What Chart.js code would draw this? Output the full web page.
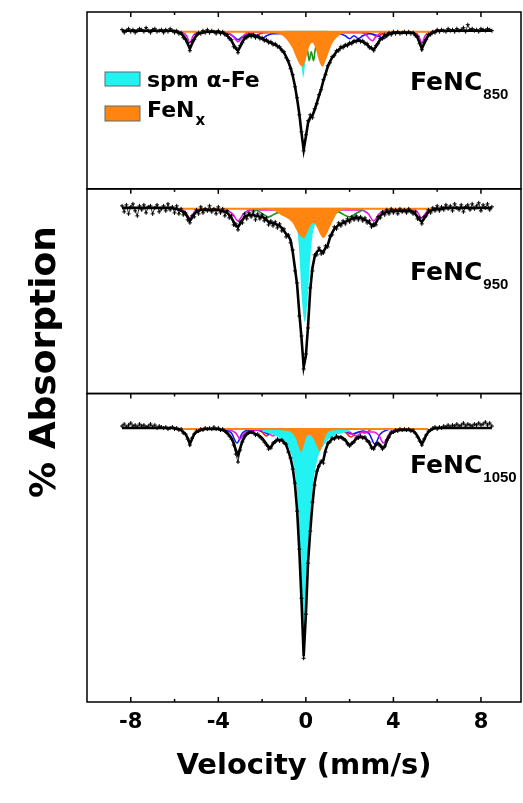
<!DOCTYPE html>
<html>
<head>
<meta charset="utf-8">
<script src="https://cdn.jsdelivr.net/npm/chart.js@4.4.3/dist/chart.umd.min.js"></script>
<style>
  html, body { margin: 0; padding: 0; background: #fff; }
  #wrap { width: 523px; height: 803px; }
</style>
</head>
<body>
<div id="wrap"><canvas id="spectra" width="523" height="803"></canvas></div>
<script>
// velocity grid (mm/s), shared by the measured spectra and the envelope fits
const velocity = [
  -8.4, -8.3, -8.2, -8.1, -8.0, -7.9, -7.8, -7.7, -7.6, -7.5,
  -7.4, -7.3, -7.2, -7.1, -7.0, -6.9, -6.8, -6.7, -6.6, -6.5,
  -6.4, -6.3, -6.2, -6.1, -6.0, -5.9, -5.8, -5.7, -5.6, -5.5,
  -5.4, -5.3, -5.2, -5.1, -5.0, -4.9, -4.8, -4.7, -4.6, -4.5,
  -4.4, -4.3, -4.2, -4.1, -4.0, -3.9, -3.8, -3.7, -3.6, -3.5,
  -3.4, -3.3, -3.2, -3.1, -3.0, -2.9, -2.8, -2.7, -2.6, -2.5,
  -2.4, -2.3, -2.2, -2.1, -2.0, -1.9, -1.8, -1.7, -1.6, -1.5,
  -1.4, -1.3, -1.2, -1.1, -1.0, -0.9, -0.8, -0.7, -0.6, -0.5,
  -0.4, -0.3, -0.2, -0.1, 0.0, 0.1, 0.2, 0.3, 0.4, 0.5,
  0.6, 0.7, 0.8, 0.9, 1.0, 1.1, 1.2, 1.3, 1.4, 1.5,
  1.6, 1.7, 1.8, 1.9, 2.0, 2.1, 2.2, 2.3, 2.4, 2.5,
  2.6, 2.7, 2.8, 2.9, 3.0, 3.1, 3.2, 3.3, 3.4, 3.5,
  3.6, 3.7, 3.8, 3.9, 4.0, 4.1, 4.2, 4.3, 4.4, 4.5,
  4.6, 4.7, 4.8, 4.9, 5.0, 5.1, 5.2, 5.3, 5.4, 5.5,
  5.6, 5.7, 5.8, 5.9, 6.0, 6.1, 6.2, 6.3, 6.4, 6.5,
  6.6, 6.7, 6.8, 6.9, 7.0, 7.1, 7.2, 7.3, 7.4, 7.5,
  7.6, 7.7, 7.8, 7.9, 8.0, 8.1, 8.2, 8.3, 8.4, 8.5
];

// ---- FeNC 850 ----
const data850 = [
  0.1, -0.2, 0.0, 0.2, -0.1, 0.1, -0.2, 0.0, 0.2, 0.1,
  -0.1, 0.3, 0.0, -0.2, 0.1, 0.2, -0.1, 0.0, 0.1, -0.2,
  0.1, -0.1, 0.2, 0.0, -0.2, 0.0, -0.3, -0.2, -0.7, -0.9,
  -1.2, -2.0, -1.1, -0.9, -0.4, -0.2, -0.3, 0.0, -0.2, 0.1,
  -0.2, 0.0, -0.1, -0.3, 0.0, -0.3, -0.1, -0.4, -0.4, -0.8,
  -0.9, -1.6, -1.7, -2.2, -1.5, -1.2, -0.7, -0.7, -0.4, -0.6,
  -0.4, -0.7, -0.5, -0.8, -0.7, -1.0, -0.9, -1.2, -1.1, -1.4,
  -1.3, -1.6, -1.6, -2.0, -2.1, -2.7, -3.0, -3.8, -4.4, -5.6,
  -6.7, -8.4, -10.1, -12.0, -10.4, -9.0, -8.4, -8.7, -7.8, -7.3,
  -6.4, -5.9, -4.9, -4.4, -3.5, -3.2, -2.6, -2.5, -2.0, -2.0,
  -1.6, -1.7, -1.4, -1.5, -1.2, -1.3, -1.0, -1.1, -0.9, -1.1,
  -1.0, -1.3, -1.3, -1.7, -1.7, -2.0, -1.5, -1.3, -0.8, -0.8,
  -0.4, -0.5, -0.2, -0.4, -0.1, -0.3, -0.1, -0.3, -0.2, -0.1,
  -0.3, -0.1, -0.3, -0.2, -0.5, -0.6, -1.3, -1.9, -1.2, -0.9,
  -0.4, -0.4, -0.1, -0.2, 0.1, -0.1, 0.1, 0.0, -0.1, 0.2,
  0.0, 0.1, -0.1, 0.2, 0.0, 0.1, 0.3, -0.1, 0.6, 0.1,
  0.2, 0.0, 0.1, -0.1, 0.2, 0.1, 0.0, 0.2, 0.1, 0.0
];
const fit850 = [
  0, 0, 0, 0, 0, 0, 0, 0, 0, 0,
  0, 0, 0, 0, 0, 0, 0, 0, 0, 0,
  0, 0, 0, 0, 0, -0.1, -0.2, -0.3, -0.5, -0.8,
  -1.3, -1.8, -1.3, -0.8, -0.5, -0.3, -0.2, -0.2, -0.1, -0.1,
  -0.1, -0.1, -0.1, -0.1, -0.1, -0.2, -0.2, -0.3, -0.5, -0.7,
  -1.0, -1.4, -1.8, -2.0, -1.6, -1.1, -0.8, -0.6, -0.5, -0.5,
  -0.5, -0.6, -0.6, -0.7, -0.8, -0.9, -1.0, -1.1, -1.2, -1.3,
  -1.4, -1.5, -1.7, -1.9, -2.2, -2.6, -3.1, -3.7, -4.5, -5.5,
  -6.8, -8.3, -10.2, -11.9, -10.6, -9.2, -8.7, -8.5, -7.9, -7.2,
  -6.5, -5.8, -5.0, -4.3, -3.6, -3.1, -2.7, -2.4, -2.1, -1.9,
  -1.7, -1.6, -1.5, -1.4, -1.3, -1.2, -1.1, -1.0, -1.0, -1.0,
  -1.1, -1.2, -1.4, -1.6, -1.8, -1.9, -1.6, -1.2, -0.9, -0.7,
  -0.5, -0.4, -0.3, -0.3, -0.2, -0.2, -0.2, -0.2, -0.2, -0.2,
  -0.2, -0.2, -0.2, -0.2, -0.4, -0.7, -1.2, -1.8, -1.3, -0.8,
  -0.5, -0.3, -0.2, -0.1, 0, 0, 0, 0, 0, 0,
  0, 0, 0, 0, 0, 0, 0, 0, 0, 0,
  0, 0, 0, 0, 0, 0, 0, 0, 0, 0
];
const feNxVel850 = [-5.7, -4.0, -2.0, -1.3, -1.0, -0.8, -0.6, -0.45, -0.3, -0.15, 0.0, 0.15, 0.3, 0.45, 0.6, 0.77, 0.9, 1.05, 1.2, 1.4, 1.6, 2.0, 4.0, 5.9];
const feNx850 = [-0.2, -0.2, -0.2, -0.3, -0.6, -1.1, -1.8, -2.6, -3.3, -3.6, -2.8, -1.6, -1.2, -1.8, -3.0, -3.6, -3.0, -2.1, -1.3, -0.7, -0.35, -0.2, -0.2, -0.2];
const spmVel850 = [-1.0, -0.6, -0.4, -0.3, -0.2, -0.12, -0.05, 0.05, 0.15, 0.3, 0.6, 1.0];
const spm850 = [-0.1, -0.3, -0.9, -1.8, -3.4, -4.7, -3.6, -1.8, -0.9, -0.4, -0.2, -0.1];
const greenVel850 = [-0.3, -0.1, 0.0, 0.08, 0.15, 0.25, 0.35, 0.42, 0.5, 0.65, 0.9];
const green850 = [-0.3, -0.7, -1.2, -2.0, -3.0, -2.1, -3.0, -2.0, -1.2, -0.6, -0.3];
const magentaVel850 = [-6.0, -5.6, -5.45, -5.3, -5.15, -5.0, -4.5, -3.6, -3.35, -3.2, -3.1, -2.95, -2.8, -2.5, 2.5, 2.75, 2.9, 3.05, 3.2, 3.45, 4.5, 5.0, 5.15, 5.3, 5.45, 5.6, 6.0];
const magenta850 = [0, -0.2, -0.5, -1.2, -0.5, -0.2, -0.1, -0.2, -0.5, -0.9, -1.1, -0.8, -0.4, -0.15, -0.15, -0.4, -0.8, -1.0, -0.6, -0.2, -0.1, -0.2, -0.5, -1.2, -0.5, -0.2, 0];
const blueVel850 = [-4.0, -3.5, -3.3, -3.1, -2.9, -2.5, -2.2, -2.0, -1.8, -1.5, 1.5, 1.8, 2.0, 2.2, 2.4, 2.6, 2.9, 3.3, 3.55, 3.8, 4.2];
const blue850 = [-0.1, -0.3, -0.6, -0.9, -0.6, -0.3, -0.5, -0.8, -0.5, -0.3, -0.3, -0.5, -0.8, -0.5, -0.8, -0.5, -0.3, -0.5, -0.8, -0.4, -0.1];
const redVel850 = [-2.8, -2.5, -2.3, -2.1, -1.8, -1.4, 2.7, 3.0, 3.25, 3.5, 3.8];
const red850 = [-0.1, -0.3, -0.6, -0.3, -0.2, -0.2, -0.2, -0.3, -0.6, -0.3, -0.1];

// ---- FeNC 950 ----
const data950 = [
  0.2, -0.4, 0.3, -0.6, 0.1, 0.4, -0.3, -0.8, 0.2, -0.2,
  0.3, -0.5, 0.1, 0.2, -0.6, 0.0, 0.3, -0.4, -0.1, 0.2,
  -0.3, 0.4, -0.2, 0.1, -0.5, 0.2, -0.6, -0.1, -0.7, -0.5,
  -1.2, -1.5, -0.8, -0.9, -0.2, -0.6, 0.1, -0.5, -0.1, -0.3,
  0.2, -0.4, -0.1, -0.6, 0.1, -0.5, -0.1, -0.8, -0.3, -1.0,
  -0.8, -1.7, -1.6, -2.2, -1.4, -1.5, -0.6, -1.1, -0.5, -0.9,
  -0.4, -1.2, -0.6, -1.1, -0.7, -1.3, -1.0, -1.7, -1.3, -1.8,
  -1.4, -2.0, -1.6, -2.3, -2.1, -2.9, -2.7, -3.5, -4.2, -6.3,
  -7.5, -10.8, -12.8, -16.1, -14.6, -12.0, -8.0, -6.3, -4.7, -4.7,
  -4.0, -4.6, -4.5, -3.8, -3.9, -2.8, -2.7, -1.9, -2.1, -1.5,
  -1.8, -1.3, -1.6, -1.1, -1.4, -0.9, -1.2, -0.8, -1.2, -0.9,
  -1.3, -1.0, -1.5, -1.3, -1.9, -1.6, -1.7, -0.9, -1.0, -0.4,
  -0.7, -0.2, -0.6, -0.1, -0.5, -0.2, -0.6, -0.1, -0.4, -0.2,
  -0.5, -0.1, -0.4, -0.6, -0.4, -1.1, -1.0, -1.6, -0.9, -0.8,
  -0.2, -0.5, 0.0, -0.3, 0.2, -0.3, 0.1, -0.2, 0.3, -0.1,
  0.2, -0.3, 0.4, 0.0, -0.2, 0.3, -0.4, 0.1, 0.3, -0.2,
  0.4, -0.1, 0.2, 0.5, -0.3, 0.3, 0.0, 0.4, -0.2, 0.1
];
const fit950 = [
  0, 0, 0, 0, 0, 0, 0, 0, 0, 0,
  0, 0, 0, 0, 0, 0, 0, 0, 0, 0,
  0, 0, 0, 0, -0.1, -0.1, -0.2, -0.3, -0.4, -0.6,
  -0.9, -1.3, -1.0, -0.6, -0.4, -0.3, -0.2, -0.2, -0.2, -0.2,
  -0.2, -0.2, -0.2, -0.2, -0.2, -0.3, -0.3, -0.4, -0.5, -0.7,
  -1.0, -1.4, -1.8, -1.9, -1.6, -1.2, -0.9, -0.8, -0.7, -0.7,
  -0.7, -0.8, -0.8, -0.9, -0.9, -1.0, -1.2, -1.4, -1.5, -1.5,
  -1.6, -1.7, -1.8, -2.0, -2.3, -2.6, -2.8, -3.2, -4.4, -6.0,
  -7.7, -10.5, -13.0, -15.9, -14.8, -11.8, -8.2, -6.0, -4.9, -4.4,
  -4.2, -4.3, -4.4, -4.0, -3.7, -3.0, -2.5, -2.1, -1.9, -1.7,
  -1.6, -1.5, -1.4, -1.3, -1.2, -1.1, -1.0, -1.0, -1.0, -1.0,
  -1.1, -1.2, -1.3, -1.5, -1.7, -1.8, -1.5, -1.1, -0.8, -0.6,
  -0.5, -0.4, -0.4, -0.3, -0.3, -0.3, -0.3, -0.3, -0.3, -0.3,
  -0.3, -0.3, -0.3, -0.4, -0.6, -0.9, -1.2, -1.4, -1.1, -0.7,
  -0.4, -0.3, -0.2, -0.1, -0.1, -0.1, -0.1, 0, 0, 0,
  0, 0, 0, 0, 0, 0, 0, 0, 0, 0,
  0, 0, 0, 0, 0, 0, 0, 0, 0, 0
];
const feNxVel950 = [-5.85, -3.0, -1.6, -1.14, -0.8, -0.6, -0.38, -0.2, -0.08, 0.05, 0.2, 0.35, 0.5, 0.65, 0.8, 0.95, 1.14, 1.3, 1.45, 1.75, 3.0, 6.2];
const feNx950 = [-0.2, -0.2, -0.2, -0.7, -1.1, -1.5, -2.4, -2.9, -3.0, -2.5, -1.8, -1.5, -1.9, -2.6, -3.0, -2.6, -1.7, -1.0, -0.5, -0.2, -0.2, -0.2];
const spmVel950 = [-2.0, -1.2, -0.7, -0.5, -0.4, -0.3, -0.2, -0.1, -0.05, 0.0, 0.1, 0.2, 0.3, 0.45, 0.7, 1.2, 2.0];
const spm950 = [-0.1, -0.3, -0.7, -1.2, -2.0, -4.5, -8.5, -11.0, -11.4, -11.0, -8.5, -5.0, -2.8, -1.5, -0.7, -0.3, -0.1];
const greenVel950 = [-2.6, -2.2, -1.9, -1.7, -1.5, -1.2, -0.9, 1.2, 1.5, 1.75, 2.0, 2.25, 2.6];
const green950 = [-0.1, -0.3, -0.7, -0.9, -0.7, -0.4, -0.3, -0.3, -0.4, -0.7, -0.9, -0.6, -0.2];
const magentaVel950 = [-6.0, -5.55, -5.3, -5.05, -4.6, -3.7, -3.35, -3.1, -2.85, -2.5, 2.5, 2.85, 3.1, 3.35, 3.7, 4.6, 5.05, 5.3, 5.55, 6.0];
const magenta950 = [0, -0.3, -1.0, -0.3, -0.1, -0.2, -0.6, -1.3, -0.6, -0.2, -0.2, -0.6, -1.3, -0.6, -0.2, -0.1, -0.3, -1.0, -0.3, 0];

// ---- FeNC 1050 ----
const data1050 = [
  0.2, 0.4, 0.1, 0.3, 0.5, 0.2, 0.3, 0.1, 0.4, 0.2,
  0.3, 0.1, 0.2, 0.4, 0.1, 0.3, 0.0, 0.2, 0.1, 0.0,
  0.1, -0.1, 0.0, 0.1, -0.1, 0.0, -0.2, -0.1, -0.5, -0.6,
  -1.1, -1.7, -1.0, -0.6, -0.3, -0.3, -0.1, -0.2, 0.0, -0.1,
  0.0, -0.1, 0.1, -0.1, 0.0, -0.2, -0.1, -0.3, -0.5, -0.8,
  -1.1, -1.7, -2.6, -3.4, -2.2, -1.4, -0.8, -0.6, -0.4, -0.4,
  -0.4, -0.7, -0.6, -0.9, -1.1, -1.4, -1.7, -2.1, -2.0, -1.5,
  -1.4, -1.1, -1.3, -1.2, -1.5, -1.6, -2.4, -3.0, -4.1, -5.5,
  -8.3, -12.1, -17.0, -23.0, -18.6, -13.5, -10.3, -7.4, -5.7, -4.3,
  -3.8, -3.3, -3.5, -2.4, -1.5, -1.4, -1.0, -1.1, -0.8, -1.0,
  -0.9, -1.1, -1.2, -1.6, -1.8, -1.5, -1.4, -1.0, -1.0, -0.8,
  -1.0, -0.9, -1.3, -1.4, -2.0, -2.1, -1.6, -1.6, -1.8, -2.1,
  -1.8, -1.2, -0.9, -0.4, -0.4, -0.2, -0.3, -0.1, -0.2, -0.1,
  -0.2, -0.1, -0.3, -0.2, -0.5, -0.9, -1.3, -1.7, -1.1, -0.7,
  -0.3, -0.2, 0.0, 0.1, -0.1, 0.1, 0.0, 0.2, 0.1, 0.3,
  0.1, 0.3, 0.2, 0.4, 0.2, 0.3, 0.5, 0.2, 0.4, 0.3,
  0.2, 0.4, 0.3, 0.5, 0.3, 0.4, 0.6, 0.3, 0.5, 0.2
];
const fit1050 = [
  0, 0, 0, 0, 0, 0, 0, 0, 0, 0,
  0, 0, 0, 0, 0, 0, 0, 0, 0, 0,
  0, 0, 0, 0, 0, -0.1, -0.1, -0.2, -0.4, -0.6,
  -1.0, -1.6, -1.1, -0.6, -0.4, -0.3, -0.2, -0.1, -0.1, -0.1,
  -0.1, -0.1, -0.1, -0.1, -0.1, -0.2, -0.2, -0.3, -0.5, -0.7,
  -1.0, -1.5, -2.2, -2.7, -2.0, -1.3, -0.9, -0.6, -0.5, -0.4,
  -0.5, -0.6, -0.7, -0.8, -1.0, -1.3, -1.6, -1.9, -1.9, -1.6,
  -1.3, -1.2, -1.2, -1.2, -1.4, -1.7, -2.3, -3.0, -4.0, -5.6,
  -8.2, -12.2, -17.2, -22.8, -18.7, -13.4, -10.3, -7.6, -5.5, -4.4,
  -3.7, -3.4, -3.2, -2.2, -1.6, -1.3, -1.1, -1.0, -0.9, -0.9,
  -0.9, -1.0, -1.2, -1.5, -1.7, -1.6, -1.3, -1.1, -0.9, -0.9,
  -0.9, -1.0, -1.2, -1.5, -1.9, -2.0, -1.7, -1.5, -1.7, -2.0,
  -1.9, -1.3, -0.8, -0.5, -0.4, -0.3, -0.2, -0.2, -0.2, -0.2,
  -0.2, -0.2, -0.2, -0.3, -0.5, -0.8, -1.2, -1.6, -1.2, -0.7,
  -0.4, -0.2, -0.1, 0, 0, 0, 0, 0, 0, 0,
  0, 0, 0, 0, 0, 0, 0, 0, 0, 0,
  0, 0, 0, 0, 0, 0, 0, 0, 0, 0
];
const feNxVel1050 = [-5.7, -3.0, -1.5, -1.0, -0.7, -0.55, -0.45, -0.35, -0.23, -0.1, 0.0, 0.1, 0.2, 0.3, 0.4, 0.52, 0.64, 0.75, 0.85, 0.95, 1.1, 1.5, 3.0, 5.6];
const feNx1050 = [-0.2, -0.2, -0.2, -0.25, -0.4, -0.7, -1.1, -1.7, -2.4, -1.8, -1.0, -0.7, -0.7, -0.9, -1.3, -1.9, -2.3, -1.8, -1.1, -0.6, -0.3, -0.2, -0.2, -0.2];
const spmVel1050 = [-2.0, -1.6, -1.2, -0.9, -0.7, -0.6, -0.5, -0.4, -0.3, -0.2, -0.09, 0.0, 0.1, 0.2, 0.3, 0.4, 0.5, 0.6, 0.8, 1.0, 1.5, 2.0];
const spm1050 = [-0.35, -0.6, -1.0, -1.6, -2.4, -3.2, -4.4, -6.5, -10.3, -15.0, -21.4, -17.0, -12.2, -8.8, -6.2, -4.5, -3.4, -2.6, -1.8, -1.2, -0.6, -0.35];
const blueVel1050 = [-3.8, -3.4, -3.15, -2.9, -2.5, -2.0, -1.7, -1.4, -1.0, 1.4, 1.8, 2.1, 2.6, 2.9, 3.15, 3.4, 3.8];
const blue1050 = [-0.1, -0.5, -1.5, -0.5, -0.2, -0.3, -0.6, -0.3, -0.2, -0.2, -0.3, -0.6, -0.3, -0.6, -1.6, -0.6, -0.1];
const magentaVel1050 = [-3.6, -3.2, -3.0, -2.8, -2.2, -1.75, -1.5, -1.25, -0.9, 1.6, 2.0, 2.3, 2.6, 3.1, 3.35, 3.55, 3.8, 4.1];
const magenta1050 = [-0.1, -0.5, -1.1, -0.5, -0.2, -0.4, -0.8, -0.4, -0.2, -0.2, -0.4, -0.8, -0.4, -0.4, -0.8, -1.5, -0.6, -0.1];
const redVel1050 = [-2.3, -2.0, -1.8, -1.6, -1.3, 1.6, 1.85, 2.05, 2.3, 2.5, 2.7, 3.0];
const red1050 = [-0.1, -0.4, -0.8, -0.4, -0.2, -0.2, -0.5, -0.9, -0.5, -0.4, -0.5, -0.1];

const majorTicks = [-8, -4, 0, 4, 8];
const minorTicks = [-6, -2, 2, 6];

const CYAN = '#22f2f2';
const ORANGE = '#ff8410';
const GREEN = '#1d951d';
const MAGENTA = '#e619e6';
const BLUE = '#1a1aff';
const RED = '#ff1a1a';
const FONT = '"DejaVu Sans", sans-serif';

const pts = (xs, ys) => xs.map((x, i) => ({ x, y: ys[i] }));

function lineSet(label, xs, ys, color, order) {
  return {
    label, data: pts(xs, ys), borderColor: color, borderWidth: 1.6,
    pointRadius: 0, cubicInterpolationMode: 'monotone', order
  };
}

function panelSets(yAxisID, p) {
  const sets = [
    { label: 'data', data: pts(velocity, p.data), borderColor: '#000', borderWidth: 0.8,
      pointStyle: 'cross', pointRadius: 2, pointBorderWidth: 1, pointBorderColor: '#000', order: 0 },
    { label: 'fit', data: pts(velocity, p.fit), borderColor: '#000', borderWidth: 2.6,
      pointRadius: 0, order: 1 },
    { label: 'FeNx', data: pts(p.feNxVel, p.feNx), borderColor: ORANGE, backgroundColor: ORANGE,
      borderWidth: 0, fill: 'origin', pointRadius: 0, cubicInterpolationMode: 'monotone', order: 2 },
    { label: 'spm a-Fe', data: pts(p.spmVel, p.spm), borderColor: CYAN, backgroundColor: CYAN,
      borderWidth: 0, fill: 'origin', pointRadius: 0, cubicInterpolationMode: 'monotone', order: 3 }
  ];
  p.lines.forEach((l, i) => sets.push(lineSet(l[0], l[1], l[2], l[3], 4 + i)));
  return sets.map(s => ({ ...s, xAxisID: 'x', yAxisID }));
}

const datasets = [
  ...panelSets('y850', {
    data: data850, fit: fit850, feNxVel: feNxVel850, feNx: feNx850, spmVel: spmVel850, spm: spm850,
    lines: [
      ['green', greenVel850, green850, GREEN],
      ['magenta', magentaVel850, magenta850, MAGENTA],
      ['blue', blueVel850, blue850, BLUE],
      ['red', redVel850, red850, RED]
    ]
  }),
  ...panelSets('y950', {
    data: data950, fit: fit950, feNxVel: feNxVel950, feNx: feNx950, spmVel: spmVel950, spm: spm950,
    lines: [
      ['green', greenVel950, green950, GREEN],
      ['magenta', magentaVel950, magenta950, MAGENTA]
    ]
  }),
  ...panelSets('y1050', {
    data: data1050, fit: fit1050, feNxVel: feNxVel1050, feNx: feNx1050, spmVel: spmVel1050, spm: spm1050,
    lines: [
      ['magenta', magentaVel1050, magenta1050, MAGENTA],
      ['blue', blueVel1050, blue1050, BLUE],
      ['red', redVel1050, red1050, RED]
    ]
  })
];

const panels = [
  { axis: 'y850', sub: '850', labelDy: 78 },
  { axis: 'y950', sub: '950', labelDy: 91 },
  { axis: 'y1050', sub: '1050', labelDy: 79 }
];

// panel frames with inward ticks
const frames = {
  id: 'frames',
  afterDatasetsDraw(chart) {
    const { ctx, chartArea: a, scales } = chart;
    const x = scales.x;
    ctx.save();
    ctx.strokeStyle = '#000';
    ctx.lineWidth = 1.5;
    panels.forEach((p, i) => {
      const s = scales[p.axis];
      ctx.strokeRect(a.left, s.top, a.right - a.left, s.bottom - s.top);
      const marks = (ys, dir) => {
        majorTicks.forEach(v => {
          const px = x.getPixelForValue(v);
          ctx.beginPath(); ctx.moveTo(px, ys); ctx.lineTo(px, ys + dir * 5); ctx.stroke();
        });
        minorTicks.forEach(v => {
          const px = x.getPixelForValue(v);
          ctx.beginPath(); ctx.moveTo(px, ys); ctx.lineTo(px, ys + dir * 3); ctx.stroke();
        });
      };
      marks(s.top, 1);
      if (i === panels.length - 1) marks(s.bottom, -1);
    });
    ctx.restore();
  }
};

// y title, legend and sample labels
const labels = {
  id: 'labels',
  afterDraw(chart) {
    const { ctx, chartArea: a, scales } = chart;
    ctx.save();
    ctx.fillStyle = '#000';

    ctx.save();
    ctx.translate(55, 362);
    ctx.rotate(-Math.PI / 2);
    ctx.textAlign = 'center';
    ctx.textBaseline = 'alphabetic';
    ctx.font = 'bold 36px ' + FONT;
    ctx.fillText('% Absorption', 0, 0);
    ctx.restore();

    // legend in the top panel
    const top = scales.y850.top;
    const lx = a.left + 18;
    ctx.lineWidth = 1;
    ctx.strokeStyle = '#5a6a6a';
    ctx.fillStyle = CYAN;
    ctx.fillRect(lx, top + 60, 35, 14);
    ctx.strokeRect(lx, top + 60, 35, 14);
    ctx.fillStyle = ORANGE;
    ctx.fillRect(lx, top + 94, 35, 15);
    ctx.strokeRect(lx, top + 94, 35, 15);
    ctx.fillStyle = '#000';
    ctx.textAlign = 'left';
    ctx.textBaseline = 'alphabetic';
    ctx.font = 'bold 22px ' + FONT;
    ctx.fillText('spm \u03b1-Fe', lx + 42, top + 75);
    ctx.fillText('FeN', lx + 42, top + 105);
    const w = ctx.measureText('FeN').width;
    ctx.font = 'bold 15px ' + FONT;
    ctx.fillText('x', lx + 42 + w + 1, top + 113);

    panels.forEach(p => {
      const s = scales[p.axis];
      const bx = a.left + 323;
      const by = s.top + p.labelDy;
      ctx.font = 'bold 25px ' + FONT;
      ctx.fillText('FeNC', bx, by);
      const fw = ctx.measureText('FeNC').width;
      ctx.font = 'bold 15px "Liberation Sans", Arial, sans-serif';
      ctx.fillText(p.sub, bx + fw + 1, by + 9);
    });
    ctx.restore();
  }
};

new Chart(document.getElementById('spectra'), {
  type: 'line',
  data: { datasets },
  options: {
    responsive: false,
    devicePixelRatio: 1,
    animation: false,
    events: [],
    layout: { autoPadding: false, padding: { left: 87, right: 2, top: 12, bottom: 0 } },
    plugins: { legend: { display: false }, tooltip: { enabled: false } },
    scales: {
      x: {
        type: 'linear',
        position: 'bottom',
        min: -10,
        max: 9.83,
        afterBuildTicks: s => { s.ticks = majorTicks.map(v => ({ value: v })); },
        afterFit: s => { s.height = 101; s.paddingLeft = 0; s.paddingRight = 0; },
        grid: { display: false, drawTicks: false },
        border: { display: false },
        ticks: { padding: 8, color: '#000', maxRotation: 0, font: { family: FONT, weight: 'bold', size: 21 } },
        title: {
          display: true,
          text: 'Velocity (mm/s)',
          color: '#000',
          font: { family: FONT, weight: 'bold', size: 29 },
          padding: { top: 0, bottom: 19 }
        }
      },
      // stacked panels are laid out bottom-up in definition order
      y1050: { type: 'linear', display: false, position: 'left', stack: 'panels', stackWeight: 30.82, min: -27.37, max: 3.45 },
      y950: { type: 'linear', display: false, position: 'left', stack: 'panels', stackWeight: 20.45, min: -18.55, max: 1.9 },
      y850: { type: 'linear', display: false, position: 'left', stack: 'panels', stackWeight: 17.67, min: -15.8, max: 1.87 }
    }
  },
  plugins: [frames, labels]
});
</script>
</body>
</html>
